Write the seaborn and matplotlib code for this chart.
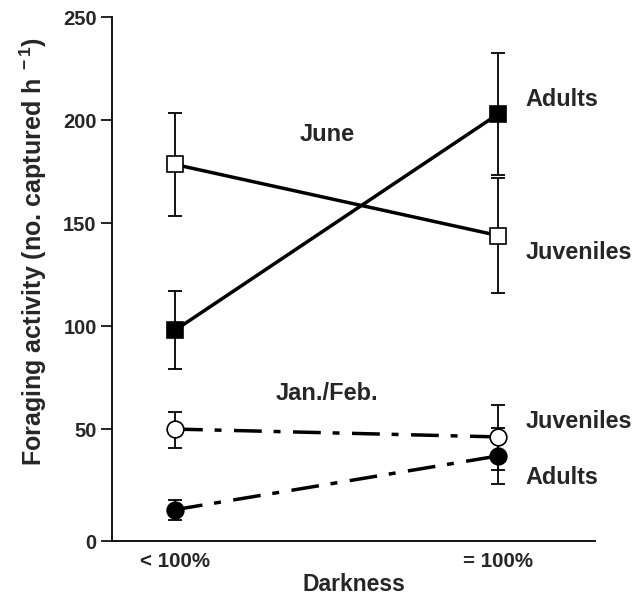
import matplotlib
matplotlib.use("Agg")
import matplotlib.pyplot as plt
import seaborn as sns
import pandas as pd
import numpy as np

# ---- data ----
categories = ["< 100%", "= 100%"]
june_adults = [98, 203]
june_adults_err = [19, 29.5]
june_juveniles = [178.5, 144]
june_juveniles_err = [25, 28]
jan_adults = [14, 38]
jan_adults_err = [4.5, 12.5]
jan_juveniles = [50, 46.5]
jan_juveniles_err = [8.5, 15]
y_ticks = [0, 50, 100, 150, 200, 250]

sns.set_theme(style="white")
plt.rcParams["font.family"] = ["Liberation Sans", "DejaVu Sans"]
plt.rcParams["font.weight"] = "bold"
plt.rcParams["mathtext.fontset"] = "custom"
plt.rcParams["mathtext.rm"] = "Liberation Sans:bold"
plt.rcParams["mathtext.it"] = "Liberation Sans:bold"
plt.rcParams["mathtext.bf"] = "Liberation Sans:bold"
plt.rcParams["mathtext.default"] = "rm"

fig = plt.figure(figsize=(6.44, 6.02), dpi=100)
ax = fig.add_axes([0.1739, 0.1013, 0.924 - 0.1739, 0.9713 - 0.1013])

# the original axis has a slightly stretched 0-50 interval
STRETCH = 112.0 / 103.0


def fwd(y):
    y = np.asarray(y, dtype=float)
    return np.where(y >= 50, y, 50 - (50 - y) * STRETCH)


def inv(y):
    y = np.asarray(y, dtype=float)
    return np.where(y >= 50, y, 50 - (50 - y) / STRETCH)


ax.set_yscale("function", functions=(fwd, inv))

xpos = list(range(len(categories)))
dashdot = (0, (8, 3.4, 2.0, 3.6))

series = [
    (june_juveniles, june_juveniles_err, "s", "white", "-"),
    (june_adults, june_adults_err, "s", "black", "-"),
    (jan_juveniles, jan_juveniles_err, "o", "white", dashdot),
    (jan_adults, jan_adults_err, "o", "black", dashdot),
]

for vals, errs, mk, fc, ls in series:
    ax.errorbar(xpos, vals, yerr=errs, fmt="none", ecolor="black",
                elinewidth=1.3, capsize=4.7, capthick=1.3, zorder=2)
    df = pd.DataFrame({"x": xpos, "y": vals})
    sns.lineplot(data=df, x="x", y="y", ax=ax, color="black", linewidth=2.5,
                 linestyle=ls, marker=mk, markersize=12,
                 markerfacecolor=fc, markeredgecolor="black", markeredgewidth=1.2,
                 zorder=3)

ax.set_xlim(-0.195, 1.30)
ax.set_ylim(0, 250)
ax.set_yticks(y_ticks)
ax.set_yticklabels([str(t) for t in y_ticks], fontsize=14.5, fontweight="bold")
ax.set_xticks(xpos)
ax.set_xticklabels(categories, fontsize=14.8, fontweight="bold")

for s in ["top", "right"]:
    ax.spines[s].set_visible(False)
for s in ["left", "bottom"]:
    ax.spines[s].set_color("black")
    ax.spines[s].set_linewidth(1.3)

ax.tick_params(axis="y", which="both", direction="out", length=8, width=1.2,
               color="black", pad=3, left=True)
ax.tick_params(axis="y", which="minor", left=False)
ax.tick_params(axis="x", length=0, pad=8)
ax.minorticks_off()

ax.set_xlabel("Darkness", fontsize=16.5, fontweight="bold", labelpad=1.5)
ax.set_ylabel(r"Foraging activity (no. captured h$^{\ -1}$)", fontsize=18,
              fontweight="bold")
ax.yaxis.set_label_coords(-0.13, 0.553)

# annotations
ax.text(0.47, 193, "June", fontsize=17, fontweight="bold", ha="center", va="center")
ax.text(0.47, 67.5, "Jan./Feb.", fontsize=17, fontweight="bold", ha="center", va="center")
ax.text(1.085, 210, "Adults", fontsize=16.8, fontweight="bold", ha="left", va="center")
ax.text(1.085, 136, "Juveniles", fontsize=16.8, fontweight="bold", ha="left", va="center")
ax.text(1.085, 53.5, "Juveniles", fontsize=16.8, fontweight="bold", ha="left", va="center")
ax.text(1.085, 28.5, "Adults", fontsize=16.8, fontweight="bold", ha="left", va="center")

ax.set_facecolor("white")
fig.patch.set_facecolor("white")
fig.savefig("out.png", dpi=100, facecolor="white")
